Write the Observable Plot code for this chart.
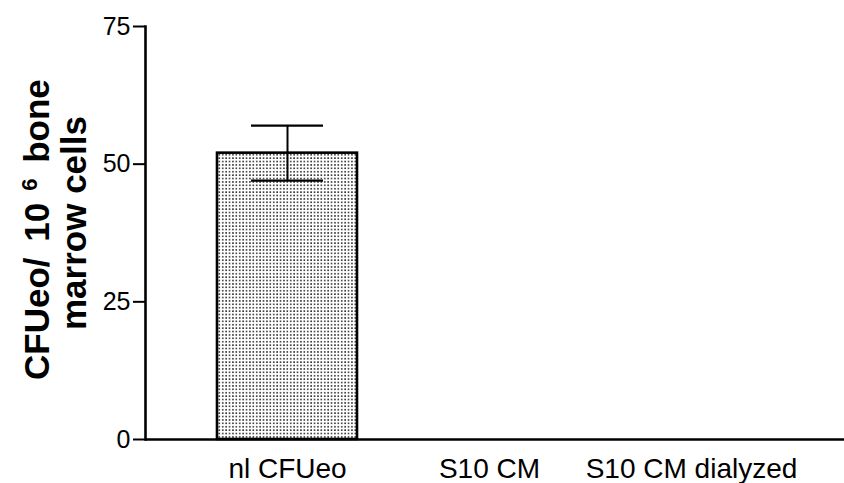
<!DOCTYPE html>
<html>
<head>
<meta charset="utf-8">
<script src="https://cdn.jsdelivr.net/npm/d3@7"></script>
<script src="https://cdn.jsdelivr.net/npm/@observablehq/plot@0.6"></script>
<style>
  html, body { margin: 0; padding: 0; background: #fff; }
  #chart { width: 844px; height: 483px; overflow: hidden; }
</style>
</head>
<body>
<div id="chart"></div>
<script>
// Data
const categories = ["nl CFUeo", "S10 CM", "S10 CM dialyzed"];
const values = [52, 0, 0];
const errors = [5, 0, 0];
const yTicks = [0, 25, 50, 75];
const yLabelLine1 = ["CFUeo/ ", "10", "6", " bone"];
const yLabelLine2 = "marrow cells";

const data = categories.map((c, i) => ({cat: c, value: values[i], err: errors[i]}));
const bars = data.filter(d => d.value > 0);
const errs = data.filter(d => d.err > 0);

const chart = Plot.plot({
  width: 844,
  height: 483,
  marginLeft: 145,
  marginRight: 0,
  marginTop: 26,
  marginBottom: 44,
  style: {fontFamily: "'Liberation Sans', Arial, Helvetica, sans-serif", color: "black", background: "white"},
  x: {domain: categories, range: [216, 763], paddingInner: 0.305, paddingOuter: 0, label: null},
  y: {domain: [0, 75], label: null},
  marks: [
    Plot.barY(bars, {x: "cat", y: "value", fill: "url(#dots)", stroke: "black", strokeWidth: 2.6}),
    Plot.ruleX(errs, {x: "cat", y1: d => d.value - d.err, y2: d => d.value + d.err, stroke: "black", strokeWidth: 2}),
    Plot.tickY(errs, {x: "cat", y: d => d.value + d.err, insetLeft: 34, insetRight: 34, stroke: "black", strokeWidth: 2.2}),
    Plot.tickY(errs, {x: "cat", y: d => d.value - d.err, insetLeft: 34, insetRight: 34, stroke: "black", strokeWidth: 2.2}),
    Plot.ruleY([0], {stroke: "black", strokeWidth: 2.6}),
    Plot.frame({anchor: "left", stroke: "black", strokeWidth: 2.6}),
    Plot.axisY({ticks: yTicks, tickSize: 12, tickPadding: 3, fontSize: 25, strokeWidth: 2, label: null}),
    Plot.axisX({tickSize: 0, tickPadding: 19, fontSize: 28, label: null})
  ]
});

const svg = d3.select(chart);

const defs = svg.insert("defs", ":first-child");
const pat = defs.append("pattern")
  .attr("id", "dots")
  .attr("patternUnits", "userSpaceOnUse")
  .attr("width", 3.4).attr("height", 3.4);
pat.append("rect").attr("width", 3.4).attr("height", 3.4).attr("fill", "white");
pat.append("rect").attr("x", 1).attr("y", 1).attr("width", 1.5).attr("height", 1.5).attr("fill", "#1a1a1a");

// y-axis title (two lines, rotated, with raised "6")
const t1 = svg.append("text")
  .attr("transform", "translate(49,380) rotate(-90)")
  .attr("text-anchor", "start")
  .attr("font-size", 35)
  .attr("font-weight", "bold")
  .attr("fill", "black")
  .attr("xml:space", "preserve");
t1.append("tspan").text(yLabelLine1[0]);
t1.append("tspan").attr("dx", 6).text(yLabelLine1[1]);
t1.append("tspan").attr("font-size", 22).attr("dx", 12).attr("dy", -12).text(yLabelLine1[2]);
t1.append("tspan").attr("dx", 6).attr("dy", 12).text(yLabelLine1[3]);

svg.append("text")
  .attr("transform", "translate(86,330) rotate(-90)")
  .attr("text-anchor", "start")
  .attr("font-size", 35)
  .attr("font-weight", "bold")
  .attr("fill", "black")
  .text(yLabelLine2);

document.getElementById("chart").appendChild(chart);
</script>
</body>
</html>
